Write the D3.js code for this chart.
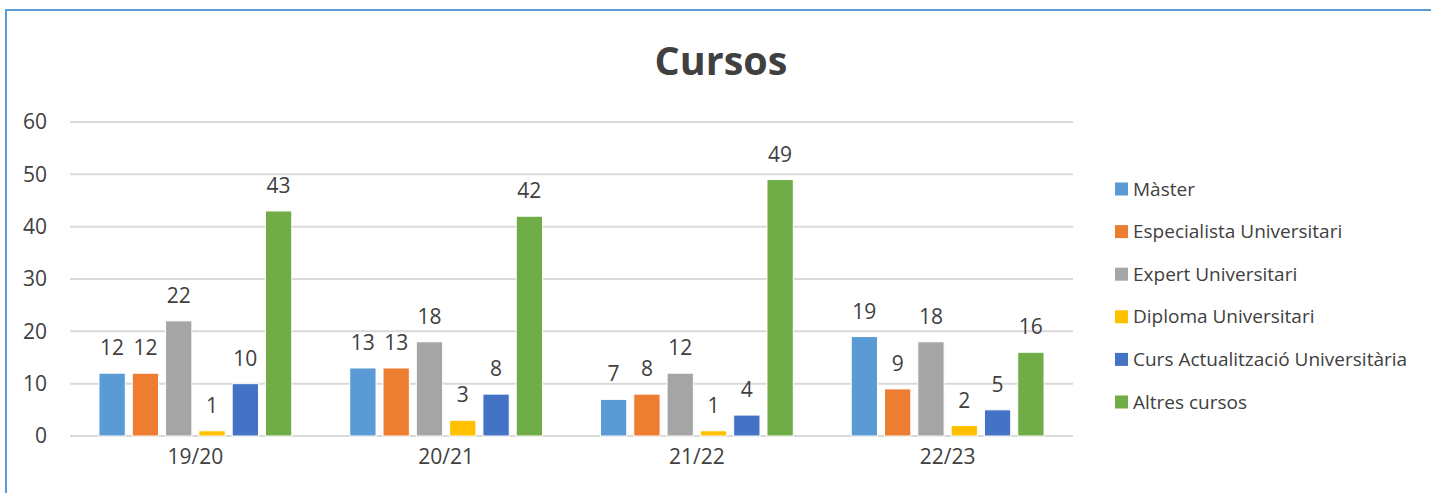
<!DOCTYPE html>
<html>
<head>
<meta charset="utf-8">
<script src="https://cdn.jsdelivr.net/npm/d3@7"></script>
<style>
  html, body { margin: 0; padding: 0; background: #fff; }
  svg { display: block; font-family: "Open Sans", sans-serif; }
</style>
</head>
<body>
<svg id="chart" width="1431" height="493"></svg>
<script>
(function(){
var years = ['19/20', '20/21', '21/22', '22/23']
var series = ['Màster', 'Especialista Universitari', 'Expert Universitari', 'Diploma Universitari', 'Curs Actualització Universitària', 'Altres cursos']
var colors = ['#5B9BD5', '#ED7D31', '#A5A5A5', '#FFC000', '#4472C4', '#70AD47']
var master = [12, 13, 7, 19]
var especialista = [12, 13, 8, 9]
var expert = [22, 18, 12, 18]
var diploma = [1, 3, 1, 2]
var actualitzacio = [10, 8, 4, 5]
var altres = [43, 42, 49, 16]
var yTicks = [0, 10, 20, 30, 40, 50, 60]

var values = [master, especialista, expert, diploma, actualitzacio, altres]

var svg = d3.select('#chart')
var textColor = '#404040'

// chart border (runs off the bottom/right of the picture)
svg.append('rect')
    .attr('x', 6).attr('y', 10)
    .attr('width', 1440).attr('height', 500)
    .attr('fill', 'none')
    .attr('stroke', '#5B9BD5')
    .attr('stroke-width', 2)

svg.append('text')
    .attr('x', 721).attr('y', 75)
    .attr('text-anchor', 'middle')
    .attr('font-size', 39.5)
    .attr('font-weight', 'bold')
    .attr('fill', textColor)
    .text('Cursos')

var x0 = d3.scaleBand().domain(years).range([70, 1073]).paddingInner(0).paddingOuter(0)
var x1 = d3.scaleBand().domain(series).range([0, x0.bandwidth()]).paddingInner(0.21).paddingOuter(0.87)
var y = d3.scaleLinear().domain([0, 60]).range([436, 122])

var g = svg.append('g')

// grid
g.selectAll('.grid')
    .data(yTicks)
    .enter().append('line')
    .attr('x1', 70).attr('x2', 1073)
    .attr('y1', d => y(d)).attr('y2', d => y(d))
    .attr('stroke', '#D9D9D9')
    .attr('stroke-width', 2)

// y axis labels
var yAxis = g.append('g')
    .attr('transform', 'translate(47,0)')
    .call(d3.axisLeft(y).tickValues(yTicks).tickSize(0).tickPadding(0))
yAxis.select('.domain').remove()
yAxis.selectAll('text')
    .attr('font-size', 21)
    .attr('font-family', '"Open Sans", sans-serif')
    .attr('fill', textColor)

// x axis labels
var xAxis = g.append('g')
    .attr('transform', 'translate(0,449)')
    .call(d3.axisBottom(x0).tickSize(0).tickPadding(0))
xAxis.select('.domain').remove()
xAxis.selectAll('text')
    .attr('font-size', 21)
    .attr('font-family', '"Open Sans", sans-serif')
    .attr('fill', textColor)

var rows = []
years.forEach(function(yr, i) {
    series.forEach(function(s, j) {
        rows.push({year: yr, series: s, color: colors[j], value: values[j][i]})
    })
})

g.selectAll('.bar')
    .data(rows)
    .enter().append('rect')
    .attr('class', 'bar')
    .attr('x', d => x0(d.year) + x1(d.series))
    .attr('y', d => y(d.value))
    .attr('width', x1.bandwidth())
    .attr('height', d => y(0) - y(d.value))
    .attr('fill', d => d.color)
    .attr('stroke', '#fff')
    .attr('stroke-width', 1)

g.selectAll('.lbl')
    .data(rows)
    .enter().append('text')
    .attr('class', 'lbl')
    .attr('x', d => x0(d.year) + x1(d.series) + x1.bandwidth() / 2)
    .attr('y', d => y(d.value) - 18)
    .attr('text-anchor', 'middle')
    .attr('font-size', 21)
    .attr('fill', textColor)
    .text(d => d.value)

// legend
var legend = svg.append('g')
var leg = legend.selectAll('.leg')
    .data(series)
    .enter().append('g')
    .attr('transform', (d, i) => 'translate(1115,' + (189 + i * 42.6) + ')')
leg.append('rect')
    .attr('x', 0).attr('y', -6.5)
    .attr('width', 13).attr('height', 13)
    .attr('fill', (d, i) => colors[i])
leg.append('text')
    .attr('x', 18).attr('y', 0)
    .attr('dy', '0.35em')
    .attr('font-size', 19)
    .attr('fill', textColor)
    .text(d => d)
})()
</script>
</body>
</html>
